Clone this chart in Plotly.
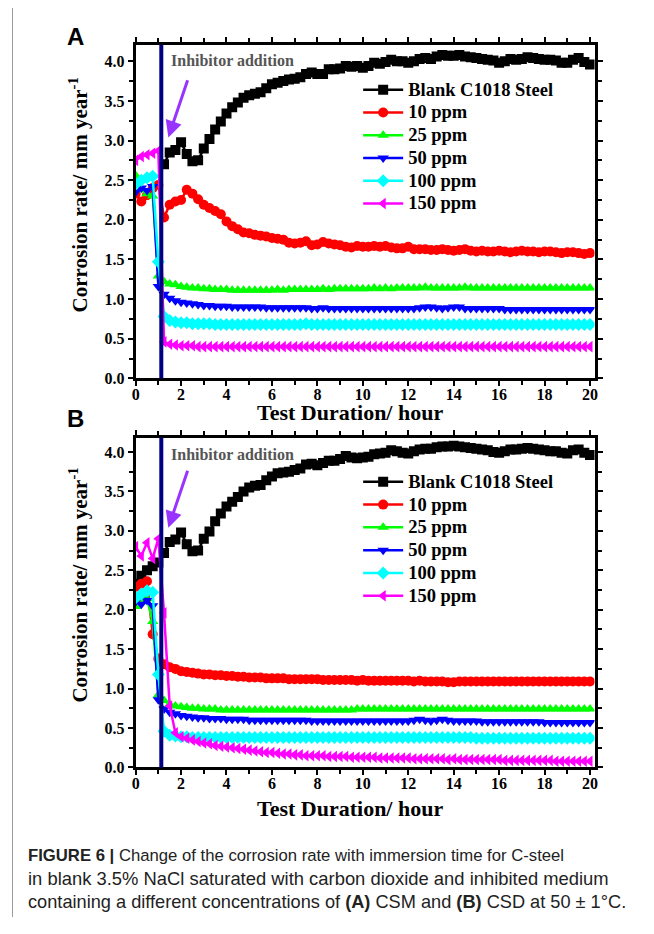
import plotly.graph_objects as go

# ---------------- data ----------------
hours = [0, 0.25, 0.5, 0.75, 1, 1.25, 1.5, 1.75, 2, 2.25, 2.5, 2.75, 3, 3.25, 3.5, 3.75,
         4, 4.25, 4.5, 4.75, 5, 5.25, 5.5, 5.75, 6, 6.25, 6.5, 6.75, 7, 7.25, 7.5, 7.75,
         8, 8.25, 8.5, 8.75, 9, 9.25, 9.5, 9.75, 10, 10.25, 10.5, 10.75, 11, 11.25, 11.5, 11.75,
         12, 12.25, 12.5, 12.75, 13, 13.25, 13.5, 13.75, 14, 14.25, 14.5, 14.75, 15, 15.25, 15.5, 15.75,
         16, 16.25, 16.5, 16.75, 17, 17.25, 17.5, 17.75, 18, 18.25, 18.5, 18.75, 19, 19.25, 19.5, 19.75,
         20]

series_names = ["Blank C1018 Steel", "10 ppm", "25 ppm", "50 ppm", "100 ppm", "150 ppm"]

# Panel A (CSM)
a_blank = [None, None, None, None,
           None, 2.70, 2.85, 2.88,
           2.98, 2.83, 2.74, 2.75,
           2.90, 3.02, 3.14, 3.24,
           3.34, 3.42, 3.48, 3.54,
           3.57, 3.59, 3.61, 3.66,
           3.71, 3.73, 3.75, 3.77,
           3.78, 3.80, 3.84, 3.86,
           3.84, 3.84, 3.90, 3.90,
           3.91, 3.94, 3.93, 3.94,
           3.92, 3.94, 3.98, 3.97,
           3.99, 4.02, 4.00, 4.00,
           3.98, 4.00, 4.03, 4.04,
           4.03, 4.06, 4.08, 4.07,
           4.07, 4.08, 4.06, 4.05,
           4.04, 4.03, 4.02, 4.01,
           3.98, 4.00, 4.03, 4.02,
           4.03, 4.05, 4.04, 4.03,
           4.02, 4.02, 4.01, 3.98,
           3.98, 4.02, 4.04, 3.99,
           3.96]
a_10 = [2.33, 2.23, 2.31, 2.40,
        2.44, 2.03, 2.19, 2.23,
        2.25, 2.38, 2.33, 2.26,
        2.19, 2.15, 2.11, 2.07,
        1.98, 1.92, 1.88, 1.84,
        1.83, 1.81, 1.80, 1.79,
        1.77, 1.76, 1.75, 1.71,
        1.70, 1.71, 1.73, 1.68,
        1.69, 1.72, 1.70, 1.69,
        1.68, 1.66, 1.65, 1.67,
        1.66, 1.66, 1.67, 1.66,
        1.67, 1.65, 1.64, 1.64,
        1.66, 1.63, 1.63, 1.63,
        1.62, 1.62, 1.63, 1.62,
        1.61, 1.62, 1.63, 1.61,
        1.60, 1.61, 1.60, 1.60,
        1.61, 1.60, 1.59, 1.60,
        1.61, 1.60, 1.60, 1.59,
        1.60, 1.60, 1.59, 1.58,
        1.59, 1.59, 1.58, 1.57,
        1.58]
a_25 = [2.56, 2.38, 2.33, 2.30,
        1.29, 1.22, 1.19, 1.18,
        1.16, 1.15, 1.14, 1.14,
        1.13, 1.13, 1.12, 1.12,
        1.12, 1.11, 1.11, 1.11,
        1.11, 1.11, 1.11, 1.11,
        1.11, 1.12, 1.11, 1.12,
        1.12, 1.12, 1.12, 1.12,
        1.12, 1.13, 1.12, 1.13,
        1.13, 1.13, 1.13, 1.13,
        1.13, 1.13, 1.14, 1.13,
        1.14, 1.13, 1.14, 1.14,
        1.14, 1.14, 1.14, 1.15,
        1.14, 1.14, 1.14, 1.14,
        1.14, 1.14, 1.15, 1.14,
        1.14, 1.14, 1.14, 1.14,
        1.14, 1.14, 1.14, 1.14,
        1.14, 1.14, 1.14, 1.14,
        1.14, 1.14, 1.14, 1.14,
        1.14, 1.14, 1.14, 1.14,
        1.14]
a_50 = [2.35, 2.40, 2.37, 2.42,
        1.16, 1.06, 1.01, 0.98,
        0.96, 0.95, 0.94, 0.93,
        0.92, 0.92, 0.91, 0.91,
        0.91, 0.90, 0.90, 0.90,
        0.90, 0.90, 0.90, 0.89,
        0.89, 0.89, 0.89, 0.89,
        0.89, 0.89, 0.89, 0.88,
        0.88, 0.89, 0.88, 0.88,
        0.88, 0.88, 0.88, 0.88,
        0.88, 0.88, 0.88, 0.88,
        0.88, 0.88, 0.88, 0.88,
        0.88, 0.88, 0.89, 0.90,
        0.90, 0.89, 0.88, 0.89,
        0.90, 0.90, 0.88, 0.88,
        0.88, 0.88, 0.88, 0.88,
        0.88, 0.87, 0.87, 0.87,
        0.87, 0.87, 0.87, 0.87,
        0.87, 0.87, 0.87, 0.87,
        0.87, 0.87, 0.87, 0.87,
        0.87]
a_100 = [2.45, 2.50, 2.53, 2.55,
         1.47, 0.78, 0.73, 0.71,
         0.70, 0.70, 0.69, 0.69,
         0.69, 0.69, 0.68, 0.68,
         0.68, 0.68, 0.68, 0.68,
         0.68, 0.68, 0.68, 0.68,
         0.68, 0.68, 0.68, 0.68,
         0.68, 0.68, 0.69, 0.68,
         0.68, 0.68, 0.68, 0.68,
         0.68, 0.68, 0.68, 0.68,
         0.68, 0.68, 0.68, 0.68,
         0.68, 0.68, 0.68, 0.68,
         0.68, 0.68, 0.68, 0.68,
         0.68, 0.68, 0.68, 0.68,
         0.68, 0.68, 0.68, 0.68,
         0.68, 0.68, 0.68, 0.68,
         0.68, 0.68, 0.68, 0.68,
         0.68, 0.68, 0.68, 0.68,
         0.68, 0.68, 0.68, 0.68,
         0.68, 0.68, 0.68, 0.68,
         0.68]
a_150 = [2.75, 2.80, 2.82, 2.84,
         2.87, 0.46, 0.43, 0.42,
         0.41, 0.41, 0.41, 0.40,
         0.40, 0.40, 0.40, 0.40,
         0.40, 0.40, 0.40, 0.40,
         0.40, 0.40, 0.40, 0.40,
         0.40, 0.40, 0.40, 0.40,
         0.40, 0.40, 0.40, 0.40,
         0.40, 0.40, 0.40, 0.40,
         0.40, 0.40, 0.40, 0.40,
         0.40, 0.40, 0.40, 0.40,
         0.40, 0.40, 0.40, 0.40,
         0.40, 0.40, 0.40, 0.40,
         0.40, 0.40, 0.40, 0.40,
         0.40, 0.40, 0.40, 0.40,
         0.40, 0.40, 0.40, 0.40,
         0.40, 0.40, 0.40, 0.40,
         0.40, 0.40, 0.40, 0.40,
         0.40, 0.40, 0.40, 0.40,
         0.40, 0.40, 0.40, 0.40,
         0.40]

# Panel B (CSD)
b_blank = [2.33, 2.43, 2.50, 2.55,
           2.60, 2.72, 2.86, 2.89,
           2.98, 2.83, 2.74, 2.75,
           2.90, 2.99, 3.12, 3.22,
           3.31, 3.37, 3.43, 3.50,
           3.55, 3.57, 3.58, 3.64,
           3.69, 3.73, 3.74, 3.75,
           3.77, 3.79, 3.84, 3.85,
           3.83, 3.86, 3.89, 3.89,
           3.91, 3.95, 3.93, 3.92,
           3.93, 3.94, 3.97, 3.98,
           3.99, 4.02, 4.01, 3.99,
           3.98, 4.01, 4.03, 4.04,
           4.04, 4.06, 4.07, 4.07,
           4.08, 4.07, 4.06, 4.05,
           4.04, 4.03, 4.02, 4.00,
           3.99, 4.01, 4.03, 4.03,
           4.04, 4.05, 4.04, 4.03,
           4.02, 4.01, 4.01, 3.99,
           3.98, 4.02, 4.03, 3.99,
           3.96]
b_10 = [2.29, 2.33, 2.36, 1.69,
        1.38, 1.31, 1.27, 1.25,
        1.22, 1.21, 1.20, 1.19,
        1.18, 1.18, 1.17, 1.17,
        1.16, 1.16, 1.15, 1.15,
        1.14, 1.14, 1.14, 1.13,
        1.13, 1.13, 1.13, 1.12,
        1.12, 1.12, 1.12, 1.12,
        1.12, 1.11, 1.11, 1.11,
        1.11, 1.11, 1.11, 1.10,
        1.11, 1.10, 1.10, 1.10,
        1.10, 1.10, 1.10, 1.10,
        1.10, 1.09, 1.10, 1.09,
        1.09, 1.09, 1.09, 1.08,
        1.08, 1.09, 1.09, 1.09,
        1.09, 1.09, 1.09, 1.09,
        1.09, 1.09, 1.09, 1.09,
        1.09, 1.09, 1.09, 1.09,
        1.09, 1.09, 1.09, 1.09,
        1.09, 1.09, 1.09, 1.09,
        1.09]
b_25 = [2.04, 2.10, 2.14, 1.85,
        0.92, 0.85, 0.80, 0.78,
        0.77, 0.76, 0.75, 0.75,
        0.74, 0.74, 0.74, 0.73,
        0.73, 0.73, 0.73, 0.73,
        0.73, 0.73, 0.73, 0.73,
        0.73, 0.73, 0.73, 0.73,
        0.73, 0.73, 0.73, 0.73,
        0.73, 0.73, 0.73, 0.73,
        0.73, 0.73, 0.73, 0.74,
        0.74, 0.74, 0.74, 0.74,
        0.74, 0.74, 0.74, 0.74,
        0.74, 0.74, 0.74, 0.74,
        0.74, 0.74, 0.74, 0.74,
        0.74, 0.74, 0.74, 0.74,
        0.74, 0.74, 0.74, 0.74,
        0.74, 0.74, 0.74, 0.74,
        0.74, 0.74, 0.74, 0.74,
        0.74, 0.74, 0.74, 0.74,
        0.74, 0.74, 0.74, 0.74,
        0.74]
b_50 = [2.10, 2.07, 2.12, 2.05,
        0.86, 0.74, 0.70, 0.68,
        0.66, 0.65, 0.64, 0.63,
        0.63, 0.62, 0.62, 0.62,
        0.61, 0.61, 0.61, 0.61,
        0.60, 0.60, 0.60, 0.60,
        0.60, 0.60, 0.60, 0.60,
        0.60, 0.60, 0.60, 0.59,
        0.59, 0.59, 0.59, 0.59,
        0.59, 0.59, 0.59, 0.59,
        0.59, 0.59, 0.59, 0.59,
        0.59, 0.59, 0.59, 0.59,
        0.59, 0.60, 0.61, 0.60,
        0.59, 0.60, 0.61, 0.60,
        0.59, 0.59, 0.59, 0.59,
        0.59, 0.58, 0.58, 0.58,
        0.58, 0.58, 0.58, 0.58,
        0.58, 0.58, 0.58, 0.58,
        0.57, 0.57, 0.57, 0.57,
        0.57, 0.57, 0.57, 0.57,
        0.57]
b_100 = [2.15, 2.20, 2.24, 2.22,
         1.18, 0.46, 0.41, 0.40,
         0.39, 0.39, 0.38, 0.38,
         0.38, 0.38, 0.38, 0.38,
         0.38, 0.38, 0.38, 0.38,
         0.38, 0.38, 0.38, 0.38,
         0.38, 0.38, 0.38, 0.38,
         0.38, 0.38, 0.38, 0.38,
         0.38, 0.38, 0.38, 0.38,
         0.38, 0.38, 0.38, 0.38,
         0.38, 0.38, 0.38, 0.38,
         0.38, 0.38, 0.38, 0.38,
         0.38, 0.38, 0.38, 0.38,
         0.38, 0.38, 0.38, 0.38,
         0.38, 0.38, 0.38, 0.38,
         0.37, 0.37, 0.37, 0.37,
         0.37, 0.37, 0.37, 0.37,
         0.37, 0.37, 0.37, 0.37,
         0.37, 0.37, 0.37, 0.37,
         0.37, 0.37, 0.37, 0.37,
         0.37]
b_150 = [2.80, 2.68, 2.85, 2.65,
         2.90, 1.96, 0.78, 0.44,
         0.39, 0.37, 0.35, 0.33,
         0.31, 0.30, 0.28, 0.27,
         0.26, 0.25, 0.24, 0.23,
         0.22, 0.21, 0.20, 0.19,
         0.19, 0.18, 0.17, 0.17,
         0.16, 0.16, 0.15, 0.15,
         0.15, 0.15, 0.14, 0.14,
         0.14, 0.14, 0.13, 0.13,
         0.13, 0.13, 0.13, 0.12,
         0.12, 0.12, 0.12, 0.12,
         0.12, 0.11, 0.11, 0.11,
         0.11, 0.11, 0.11, 0.10,
         0.11, 0.10, 0.10, 0.10,
         0.10, 0.10, 0.10, 0.10,
         0.10, 0.09, 0.09, 0.09,
         0.09, 0.09, 0.09, 0.09,
         0.09, 0.09, 0.08, 0.08,
         0.08, 0.08, 0.08, 0.08,
         0.08]

inhibitor_time = 1.13
x_ticks = [0, 2, 4, 6, 8, 10, 12, 14, 16, 18, 20]
y_ticks = [0.0, 0.5, 1.0, 1.5, 2.0, 2.5, 3.0, 3.5, 4.0]

# ---------------- style ----------------
# The page body keeps the browser's default 8px margin, so the figure is made
# 16px smaller than the 654x934 window and positions are given in window pixels.
PAGE_W, PAGE_H, BODY_MARGIN = 654, 934, 8
W, H = PAGE_W - 2 * BODY_MARGIN, PAGE_H - 2 * BODY_MARGIN
SERIF = "Liberation Serif, Times New Roman, serif"
SANS = "Liberation Sans, Arial, sans-serif"
colors = ["#000000", "#FF0000", "#00FF00", "#0000FF", "#00FFFF", "#FF00FF"]
symbols = ["square", "circle", "triangle-up", "triangle-down", "diamond", "triangle-left"]
msizes = [10, 10, 10, 10, 10, 10]


def pxx(p):
    return (p - BODY_MARGIN) / W


def pxy(p):
    return 1 - (p - BODY_MARGIN) / H


panels = [
    dict(data=[a_blank, a_10, a_25, a_50, a_100, a_150], xa="x", ya="y", legend="legend"),
    dict(data=[b_blank, b_10, b_25, b_50, b_100, b_150], xa="x2", ya="y2", legend="legend2"),
]

fig = go.Figure()
for p in panels:
    for name, vals, c, s, ms in zip(series_names, p["data"], colors, symbols, msizes):
        fig.add_trace(go.Scatter(
            x=hours, y=vals, name='<span style="font-size:18.5px">' + name + "</span>",
            mode="lines+markers",
            line=dict(color=c, width=2.5),
            marker=dict(symbol=s, size=ms, color=c, line=dict(width=0)),
            xaxis=p["xa"], yaxis=p["ya"], legend=p["legend"],
            connectgaps=False,
        ))

minor_common = dict(ticks="outside", ticklen=4, tickwidth=2, tickcolor="black")
axis_common = dict(
    showline=True, linewidth=3, linecolor="black", mirror="allticks",
    ticks="outside", ticklen=5, tickwidth=2, tickcolor="black",
    showgrid=False, zeroline=False,
    tickfont=dict(family=SERIF, size=16, color="black", weight="bold"),
)
xdom = [pxx(133), pxx(597)]
legend_common = dict(xanchor="left", yanchor="top", bgcolor="rgba(0,0,0,0)",
                     font=dict(family=SERIF, size=15.2, color="black", weight="bold"),
                     itemwidth=40)
fig.update_layout(
    width=W, height=H, margin=dict(l=0, r=0, t=0, b=0),
    plot_bgcolor="white", paper_bgcolor="white",
    xaxis=dict(axis_common, domain=xdom, range=[0, 20.2], tickvals=x_ticks, anchor="y",
               ticklabelstandoff=-6, minor=dict(minor_common, dtick=1, tick0=0)),
    yaxis=dict(axis_common, domain=[pxy(382), pxy(45)], range=[0, 4.21], tickvals=y_ticks,
               tickformat=".1f", anchor="x", minor=dict(minor_common, dtick=0.25, tick0=0)),
    xaxis2=dict(axis_common, domain=xdom, range=[0, 20.2], tickvals=x_ticks, anchor="y2",
                ticklabelstandoff=-6, minor=dict(minor_common, dtick=1, tick0=0)),
    yaxis2=dict(axis_common, domain=[pxy(775), pxy(442)], range=[0, 4.18], tickvals=y_ticks,
                tickformat=".1f", anchor="x2", minor=dict(minor_common, dtick=0.25, tick0=0)),
    legend=dict(legend_common, x=pxx(358), y=pxy(74)),
    legend2=dict(legend_common, x=pxx(358), y=pxy(470)),
)

shapes = []
annotations = []
for xa, ya, panel_top, label, title_y, ylabel_y, label_y in [
    ("x", "y", 45, "A", 416, 197, 37),
    ("x2", "y2", 442, "B", 816, 591, 423),
]:
    # inhibitor addition line
    shapes.append(dict(type="line", xref=xa, yref=ya + " domain", x0=inhibitor_time, x1=inhibitor_time,
                       y0=0, y1=1, line=dict(color="#000080", width=4), layer="above"))
    # arrow
    annotations.append(dict(xref=xa, yref=ya, axref=xa, ayref=ya, x=1.44, y=3.04, ax=2.31, ay=3.78,
                            showarrow=True, arrowhead=2, arrowsize=1.1, arrowwidth=3,
                            arrowcolor="#9933FF", text=""))
    annotations.append(dict(xref="paper", yref="paper", x=pxx(167), y=pxy(panel_top + 16.5),
                            xanchor="left", yanchor="middle", showarrow=False,
                            text="Inhibitor addition",
                            font=dict(family=SERIF, size=16, color="#555555", weight="bold")))
    annotations.append(dict(xref="paper", yref="paper", x=pxx(350), y=pxy(title_y),
                            xanchor="center", yanchor="middle", showarrow=False,
                            text="Test Duration/ hour",
                            font=dict(family=SERIF, size=22, color="black", weight="bold")))
    annotations.append(dict(xref="paper", yref="paper", x=pxx(75), y=pxy(ylabel_y),
                            xanchor="center", yanchor="middle", showarrow=False, textangle=-90,
                            text="Corrosion rate/ mm year<sup>-1</sup>",
                            font=dict(family=SERIF, size=21, color="black", weight="bold")))
    annotations.append(dict(xref="paper", yref="paper", x=pxx(72), y=pxy(label_y),
                            xanchor="center", yanchor="middle", showarrow=False, text=label,
                            font=dict(family=SANS, size=24, color="black", weight="bold")))

caption_lines = [
    "<b>FIGURE 6 |</b> Change of the corrosion rate with immersion time for C-steel",
    "in blank 3.5% NaCl saturated with carbon dioxide and inhibited medium",
    "containing a different concentrations of <b>(A)</b> CSM and <b>(B)</b> CSD at 50 ± 1°C.",
]
caption_sizes = [16.7, 18.4, 18.2]
for i, (line, fs) in enumerate(zip(caption_lines, caption_sizes)):
    annotations.append(dict(xref="paper", yref="paper", x=pxx(22), y=pxy(864 + 23.5 * i),
                            xanchor="left", yanchor="middle", showarrow=False, text=line,
                            font=dict(family=SANS, size=fs, color="#222222")))

shapes.append(dict(type="line", xref="paper", yref="paper", x0=pxx(8.5), x1=pxx(8.5),
                   y0=pxy(926), y1=1, line=dict(color="#9a9a9a", width=1)))

fig.update_layout(shapes=shapes, annotations=annotations)
fig.write_html("out.html", config={"displayModeBar": False})
